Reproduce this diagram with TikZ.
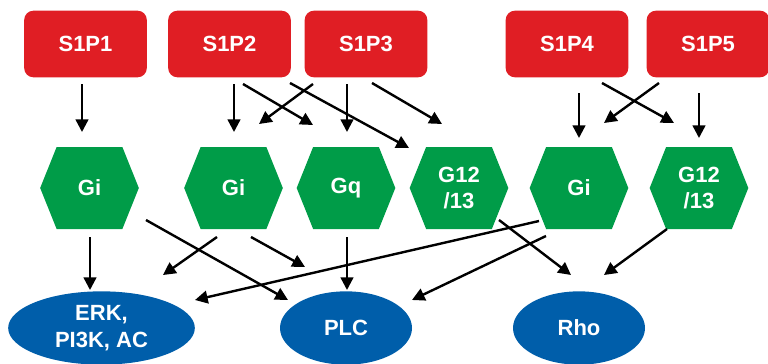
\documentclass[tikz,border=0pt]{standalone}
\usepackage{fontspec}
\setmainfont{Liberation Sans}
\usepackage{tikz}
\usetikzlibrary{calc, positioning, arrows.meta, shapes.geometric}
\definecolor{recred}{RGB}{224,30,36}
\definecolor{gpgreen}{RGB}{0,156,72}
\definecolor{effblue}{RGB}{0,94,170}
\tikzstyle{rec}=[fill=recred, rounded corners=7pt, minimum width=92pt, minimum height=50pt, inner sep=0pt, text=white, font=\bfseries\fontsize{16.5}{20}\selectfont]
\tikzstyle{gprot}=[minimum width=74pt, minimum height=61.5pt, inner sep=0pt, text=white, align=center, font=\bfseries\fontsize{16.5}{20}\selectfont,
  path picture={\fill[gpgreen] (path picture bounding box.west)
    -- ($(path picture bounding box.north west)!0.167!(path picture bounding box.north east)$)
    -- ($(path picture bounding box.north west)!0.833!(path picture bounding box.north east)$)
    -- (path picture bounding box.east)
    -- ($(path picture bounding box.south west)!0.833!(path picture bounding box.south east)$)
    -- ($(path picture bounding box.south west)!0.167!(path picture bounding box.south east)$)
    -- cycle;}]
\tikzstyle{eff}=[ellipse, fill=effblue, inner sep=0pt, text=white, align=center, font=\bfseries\fontsize{16.5}{20}\selectfont]
\tikzstyle{arr}=[->, line width=1.8pt]
\tikzset{>={Triangle[length=9.5pt,width=9.5pt]}}

\begin{document}
\begin{tikzpicture}[x=0.75pt, y=-0.75pt]
\useasboundingbox (0,0) rectangle (768,364);
% receptors
\node[rec] (R1) at (85.5,44) {S1P1};
\node[rec] (R2) at (229.5,44) {S1P2};
\node[rec] (R3) at (366,44) {S1P3};
\node[rec] (R4) at (567,44) {S1P4};
\node[rec] (R5) at (708,44) {S1P5};
% G proteins
\node[gprot] (G1) at (89.5,188) {Gi};
\node[gprot] (G2) at (233.5,188) {Gi};
\node[gprot] (G3) at (346,188) {Gq};
\node[gprot] (G4) at (459,188) {G12\\/13};
\node[gprot] (G5) at (579,188) {Gi};
\node[gprot] (G6) at (699,188) {G12\\/13};
% effectors
\node[eff, minimum width=140pt, minimum height=55pt] (E1) at (101.5,328) {ERK,\\PI3K, AC};
\node[eff, minimum width=99pt, minimum height=55pt] (E2) at (346,328) {PLC};
\node[eff, minimum width=99pt, minimum height=55pt] (E3) at (579,328) {Rho};
% receptor -> G protein
\draw[arr] ($(R1)+(-3.5,40)$) -- ($(G1)+(-7.5,-56)$);
\draw[arr] ($(R2)+(4.5,40)$) -- ($(G2)+(0.5,-56)$);
\draw[arr] ($(R2)+(13.5,40)$) -- ($(G3)+(-33,-63)$);
\draw[arr] ($(R3)+(-53,40)$) -- ($(G2)+(25.5,-64)$);
\draw[arr] ($(R2)+(60.5,39)$) -- ($(G4)+(-50,-40)$);
\draw[arr] ($(R3)+(-19,40)$) -- ($(G3)+(1,-56)$);
\draw[arr] ($(R3)+(6,39)$) -- ($(G4)+(-17,-64)$);
\draw[arr] ($(R4)+(12,49)$) -- ($(G5)+(0,-50)$);
\draw[arr] ($(R4)+(35,39)$) -- ($(G6)+(-25,-65)$);
\draw[arr] ($(R5)+(-49,39)$) -- ($(G5)+(25,-65)$);
\draw[arr] ($(R5)+(-9,49)$) -- ($(G6)+(0,-50)$);
% G protein -> effector
\draw[arr] ($(G1)+(0.5,49)$) -- ($(E1)+(-11.5,-38)$);
\draw[arr] ($(G1)+(56.5,32)$) -- ($(E2)+(-58,-28)$);
\draw[arr] ($(G2)+(-16.5,49)$) -- ($(E1)+(61.5,-53)$);
\draw[arr] ($(G2)+(17.5,49)$) -- ($(E2)+(-41,-61)$);
\draw[arr] ($(G3)+(1,49)$) -- ($(E2)+(1,-38)$);
\draw[arr] ($(G5)+(-40,33)$) -- ($(E1)+(93.5,-28)$);
\draw[arr] ($(G5)+(-33,48)$) -- ($(E2)+(66,-28)$);
\draw[arr] ($(G4)+(40,32)$) -- ($(E3)+(-8,-53)$);
\draw[arr] ($(G6)+(-32,41)$) -- ($(E3)+(25,-53)$);
\end{tikzpicture}
\end{document}
